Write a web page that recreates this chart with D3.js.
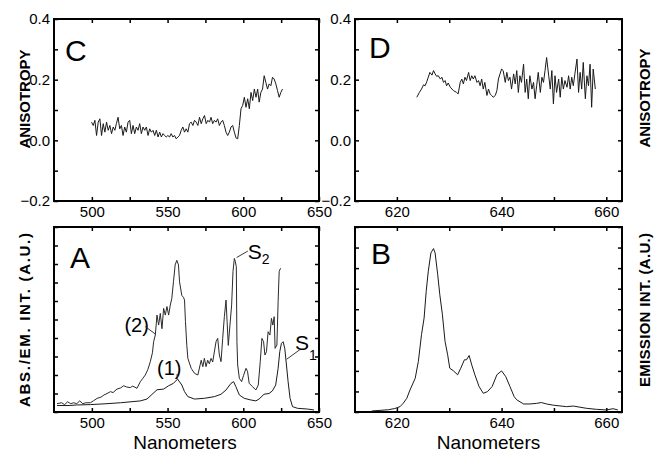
<!DOCTYPE html>
<html>
<head>
<meta charset="utf-8">
<script src="https://cdn.jsdelivr.net/npm/d3@7"></script>
<style>
  body { margin: 0; background: #fff; }
  text { font-family: Arial, "Liberation Sans", Helvetica, sans-serif; fill: #000; }
</style>
</head>
<body>
<svg id="chart" width="654" height="458"></svg>
<script>
// ---- panel C : anisotropy vs wavelength (absorption region) ----
const cWave = [499.8,500.9,502.0,503.1,504.2,505.3,506.4,507.5,508.6,509.7,510.8,511.9,513.0,514.1,515.2,516.2,517.3,518.4,519.5,520.6,
  521.7,522.8,523.9,525.0,526.1,527.2,528.3,529.4,530.5,531.6,532.7,533.8,534.9,536.0,537.1,538.2,539.3,540.4,541.5,542.6,
  543.7,544.8,545.9,547.0,548.0,549.1,550.2,551.3,552.4,553.5,554.6,555.7,556.8,557.9,559.0,560.1,561.2,562.3,563.4,564.5,
  565.6,566.7,567.8,568.9,570.0,571.1,572.2,573.3,574.4,575.5,576.6,577.7,578.7,579.8,580.9,582.0,583.1,584.2,585.3,586.4,
  587.5,588.6,589.7,590.8,591.9,593.0,594.1,595.2,596.3,597.4,598.5,599.6,600.7,601.8,602.9,604.0,605.1,606.2,607.3,608.4,
  609.5,610.5,611.6,612.7,613.8,614.9,616.0,617.1,618.2,619.3,620.4,621.5,622.6,623.7,624.8,625.9];
const cAniso = [.060,.049,.066,.016,.060,.071,.016,.055,.027,.060,.033,.049,.022,.044,.033,.055,.076,.038,.049,.016,
  .044,.027,.060,.066,.022,.049,.022,.044,.033,.055,.022,.044,.033,.044,.016,.038,.027,.033,.016,.033,
  .011,.027,.011,.022,.016,.011,.016,.011,.022,.011,.016,.005,.011,.016,.033,.044,.027,.038,.027,.055,
  .060,.049,.066,.060,.049,.076,.055,.071,.082,.055,.066,.060,.076,.055,.066,.060,.071,.049,.060,.066,
  .049,.027,.016,.027,.044,.049,.027,.008,.005,.049,.104,.115,.142,.109,.137,.104,.158,.131,.169,.142,
  .169,.126,.158,.169,.213,.191,.169,.186,.180,.208,.202,.186,.164,.142,.158,.169];

// ---- panel D : anisotropy vs wavelength (emission region) ----
const dWave = [623.8,624.3,624.7,625.1,625.4,625.7,626.0,626.3,626.7,627.0,627.3,627.6,627.9,628.3,628.6,628.9,629.2,629.5,629.8,630.2,
  630.8,631.4,631.7,632.1,632.4,632.7,633.0,633.3,633.7,634.0,634.3,634.6,634.9,635.3,635.6,635.9,636.2,636.5,636.8,637.2,
  637.5,637.8,638.1,638.4,638.8,639.1,639.4,639.7,640.0,640.3,640.7,641.0,641.3,641.6,641.9,642.3,642.6,642.9,643.2,643.5,
  643.8,644.2,644.5,644.8,645.1,645.4,645.8,646.1,646.4,646.7,647.0,647.4,647.7,648.0,648.3,648.6,649.0,649.3,649.6,649.9,
  650.2,650.5,650.9,651.2,651.5,651.8,652.1,652.5,652.8,653.1,653.4,653.7,654.0,654.4,654.7,655.0,655.3,655.6,656.0,656.3,
  656.6,656.9,657.2,657.5,657.9];
const dAniso = [.142,.158,.169,.183,.180,.193,.208,.224,.215,.230,.219,.211,.213,.202,.208,.191,.197,.180,.189,.175,
  .164,.158,.153,.191,.202,.186,.208,.197,.224,.197,.213,.202,.213,.191,.197,.180,.202,.169,.191,.148,
  .169,.153,.148,.142,.148,.164,.202,.219,.235,.230,.191,.224,.197,.208,.169,.219,.186,.230,.158,.213,
  .191,.251,.158,.202,.137,.213,.169,.191,.137,.180,.224,.158,.208,.191,.230,.273,.213,.169,.230,.120,
  .213,.158,.202,.142,.208,.169,.197,.175,.213,.169,.208,.180,.219,.268,.158,.224,.169,.257,.137,.213,
  .180,.251,.109,.235,.169];

// ---- panel A : absorption (2) and emission (1), arbitrary units ----
const absWave = [477,480,482,484,486,488,490,492,494,496,499,501,503.5,506,508,510,512.3,514,516.6,519,521,523,525.4,527,529.8,
  532,533.5,535.3,537,538.6,540,540.8,541.9,543,544.1,545.2,546.3,547.4,548.5,549.6,550.7,551.8,552.8,553.9,555,556.1,557.2,557.9,
  559.4,560.5,561.2,561.8,562.7,563.4,565.6,567.8,570,572.2,573.3,574.3,575.4,576.5,577.6,578.7,579.8,582,583.1,584.2,585.3,586.4,
  587.5,588.6,589.3,590.1,591.2,592.3,593.2,594.1,594.7,595.4,595.8,596.3,597.4,598.9,600.2,601.8,602.8,603.9,606.1,608.3,609.9,
  611.2,612.3,613.4,614.3,615.3,616.4,617.6,618.6,619.5,620.4,621,622.2,623,623.7,624.6];
const absVal = [0.45,0.5,0.4,0.55,0.45,0.5,0.45,0.6,0.45,0.5,0.5,0.6,0.74,0.8,0.92,1.0,1.1,1.05,1.24,1.3,1.42,1.35,1.32,1.4,1.28,
  1.64,1.8,2.0,2.3,2.72,3.2,3.8,4.16,5.24,4.7,5.33,4.5,5.6,5.24,5.7,5.24,5.78,6.14,7.04,7.95,8.2,7.95,7.04,
  6.3,6.2,6.05,4.9,3.6,2.9,2.36,2.09,2.0,2.8,2.45,2.9,2.45,2.8,2.6,2.9,2.7,3.8,3.98,3.08,2.72,3.98,
  5.15,6.05,4.9,3.6,4.7,5.78,7.6,8.3,8.15,7.85,3.8,2.54,1.82,1.64,1.98,2.36,2.2,1.55,1.37,1.19,1.46,
  2.72,3.98,3.8,3.08,3.26,4.34,4.16,5.06,4.7,5.15,3.44,3.62,5.96,7.6,7.77];
const emWave = [477,485,490,499.1,510,518.9,532,536.4,539.7,543,547.4,550.7,553.9,556.6,559.4,561.2,563.4,567.8,574.3,580.9,
  585.3,588.6,591.9,593.6,595.1,597.4,600.6,605,608.3,610.4,613.7,617,619.2,621.4,623,624.1,625.2,626.3,627.4,628.5,
  629.6,630.9,632.5,635.8,642.3,646.7];
const emVal = [0.35,0.35,0.38,0.4,0.45,0.5,0.6,0.7,0.95,1.2,1.24,1.42,1.55,1.78,1.46,1.1,0.83,0.7,0.74,0.83,
  0.96,1.19,1.55,1.64,1.37,0.92,0.74,0.65,0.6,0.7,0.96,1.0,1.14,1.46,2.36,3.26,3.71,3.8,3.44,2.54,
  1.64,0.74,0.29,0.2,0.16,0.11];

// ---- panel B : emission spectrum ----
const bWave = [615.2,618.4,619.6,620.6,621.2,621.9,622.5,623.5,624.1,624.7,625.2,625.6,626.0,626.5,627.0,627.3,627.8,628.2,628.7,629.2,
  629.7,630.1,630.8,631.6,632.2,632.9,633.3,633.8,634.3,634.9,635.7,636.5,637.3,638.2,639.1,640.0,640.8,641.6,642.4,642.9,
  644.2,645.4,646.7,647.6,648.6,649.9,652.4,653.7,656.2,658.1,660.0,661.3,662.2];
const bVal = [0.05,0.11,0.17,0.26,0.42,0.67,1.07,1.64,2.46,3.76,4.57,5.87,6.85,7.74,7.95,7.74,6.68,5.71,4.73,3.43,
  2.78,2.13,2.0,1.81,2.13,2.54,2.54,2.75,2.29,1.81,1.24,0.91,0.99,1.24,1.81,2.0,1.72,1.24,0.75,0.59,
  0.39,0.39,0.42,0.46,0.39,0.33,0.26,0.29,0.18,0.13,0.10,0.16,0.10];

// ticks
const anisoTicks = [-0.2, -0.1, 0, 0.1, 0.2, 0.3, 0.4];
const anisoLabels = [-0.2, 0, 0.2, 0.4];
const wideTicks = [500, 525, 550, 575, 600, 625, 650];
const wideLabels = [500, 550, 600, 650];
const narrowTicks = [620, 630, 640, 650, 660];
const narrowLabels = [620, 640, 660];
const auTicksA = d3.range(0, 11);
const auTicksB = d3.range(0, 10);

const svg = d3.select("#chart");

function panel(cfg) {
  const x = d3.scaleLinear().domain(cfg.xDomain).range(cfg.xRange);
  const y = d3.scaleLinear().domain(cfg.yDomain).range(cfg.yRange);
  const g = svg.append("g");
  const [x0, x1] = cfg.xRange, [y0, y1] = cfg.yRange; // y0 bottom, y1 top

  const fmtX = d => cfg.xLabels.includes(d) ? d : "";
  const fmtY = d => cfg.yLabels.includes(d) ? d3.format(".1f")(d) : "";

  g.append("g").attr("transform", `translate(0,${y0})`)
    .call(d3.axisBottom(x).tickValues(cfg.xTicks).tickSize(-4).tickPadding(5).tickFormat(fmtX));
  g.append("g").attr("transform", `translate(0,${y1})`)
    .call(d3.axisTop(x).tickValues(cfg.xTicks).tickSize(-4).tickFormat(""));
  g.append("g").attr("transform", `translate(${x0},0)`)
    .call(d3.axisLeft(y).tickValues(cfg.yTicks).tickSize(-4).tickPadding(4).tickFormat(fmtY));
  g.append("g").attr("transform", `translate(${x1},0)`)
    .call(d3.axisRight(y).tickValues(cfg.yTicks).tickSize(-4).tickFormat(""));

  g.selectAll(".domain").remove();
  g.selectAll(".tick line").attr("stroke", "#000").attr("stroke-width", 1.5);
  g.selectAll(".tick text").attr("font-size", 15).attr("font-family", "Arial, 'Liberation Sans', sans-serif");

  g.append("rect")
    .attr("x", x0).attr("y", y1)
    .attr("width", x1 - x0).attr("height", y0 - y1)
    .attr("fill", "none").attr("stroke", "#000").attr("stroke-width", 2);

  const line = d3.line().x(d => x(d[0])).y(d => y(d[1]));
  cfg.series.forEach(s => {
    g.append("path")
      .datum(d3.zip(s.wave, s.val))
      .attr("fill", "none")
      .attr("stroke", s.color || "#1a1a1a")
      .attr("stroke-width", 1)
      .attr("d", line);
  });

  g.append("text")
    .attr("x", x0 + cfg.letterDx).attr("y", cfg.letterY)
    .attr("font-size", 30)
    .text(cfg.letter);

  return { x, y, g };
}

const C = panel({
  xDomain: [475, 650], xRange: [54, 319], yDomain: [-0.2, 0.4], yRange: [201, 19],
  xTicks: wideTicks, xLabels: wideLabels, yTicks: anisoTicks, yLabels: anisoLabels,
  series: [{ wave: cWave, val: cAniso }], letter: "C", letterDx: 11, letterY: 61
});
const D = panel({
  xDomain: [612, 663], xRange: [355, 622], yDomain: [-0.2, 0.4], yRange: [201, 19],
  xTicks: narrowTicks, xLabels: narrowLabels, yTicks: anisoTicks, yLabels: anisoLabels,
  series: [{ wave: dWave, val: dAniso }], letter: "D", letterDx: 14, letterY: 58
});
const A = panel({
  xDomain: [475, 650], xRange: [54, 319], yDomain: [0, 10], yRange: [412, 227],
  xTicks: wideTicks, xLabels: wideLabels, yTicks: auTicksA, yLabels: [],
  series: [{ wave: absWave, val: absVal, color: "#2a2a2a" }, { wave: emWave, val: emVal }],
  letter: "A", letterDx: 16, letterY: 268
});
const B = panel({
  xDomain: [612, 663], xRange: [355, 622], yDomain: [0, 9], yRange: [412, 227],
  xTicks: narrowTicks, xLabels: narrowLabels, yTicks: auTicksB, yLabels: [],
  series: [{ wave: bWave, val: bVal }], letter: "B", letterDx: 16, letterY: 264
});

// annotations in panel A (positions in data units)
function note(p, label, sub, at, size) {
  const t = p.g.append("text").attr("x", p.x(at[0])).attr("y", p.y(at[1])).attr("font-size", size).text(label);
  if (sub) t.append("tspan").attr("font-size", 14).attr("dy", sub.dy).text(sub.text);
}
function leader(p, from, to) {
  p.g.append("line")
    .attr("x1", p.x(from[0])).attr("y1", p.y(from[1]))
    .attr("x2", p.x(to[0])).attr("y2", p.y(to[1]))
    .attr("stroke", "#222").attr("stroke-width", 0.9);
}
note(A, "(2)", null, [521.5, 4.35], 20);
leader(A, [535.2, 4.62], [542.2, 4.2]);
note(A, "(1)", null, [543, 2.0], 20);
leader(A, [556.2, 2.05], [556.6, 1.8]);
note(A, "S", { text: "2", dy: 5 }, [603, 8.26], 21);
leader(A, [603, 8.7], [595.6, 8.35]);
note(A, "S", { text: "1", dy: 10 }, [634.2, 3.37], 21);
leader(A, [637.4, 3.37], [628.6, 2.85]);

// axis titles
function vtitle(x, cy, label, len) {
  const t = svg.append("text")
    .attr("transform", `translate(${x},${cy}) rotate(-90)`)
    .attr("text-anchor", "middle")
    .attr("font-size", 15).attr("font-weight", "bold")
    .text(label);
  if (len) t.attr("textLength", len).attr("lengthAdjust", "spacing");
}
vtitle(30, 99, "ANISOTROPY");
vtitle(650, 98, "ANISOTROPY");
vtitle(30, 320, "ABS./EM. INT. (A.U.)", 174);
vtitle(650, 310, "EMISSION INT. (A.U.)", 154);

[[185, "Nanometers"], [488.5, "Nanometers"]].forEach(([cx, label]) => {
  svg.append("text").attr("x", cx).attr("y", 449)
    .attr("text-anchor", "middle").attr("font-size", 19).text(label);
});
</script>
</body>
</html>
